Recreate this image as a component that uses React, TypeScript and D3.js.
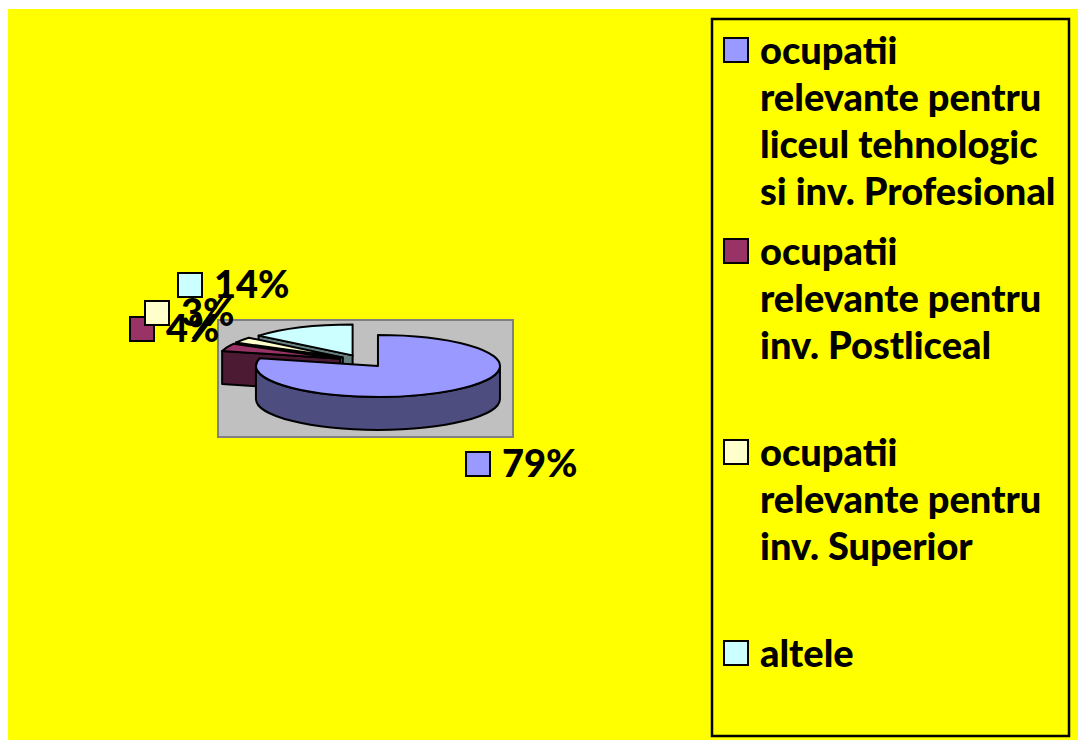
import React from "react";
import * as d3 from "d3";

// pie data, in legend order
const categories = [
  "ocupatii relevante pentru liceul tehnologic si inv. Profesional",
  "ocupatii relevante pentru inv. Postliceal",
  "ocupatii relevante pentru inv. Superior",
  "altele",
];
const legendLines = [
  ["ocupatii", "relevante pentru", "liceul tehnologic", "si inv. Profesional"],
  ["ocupatii", "relevante pentru", "inv. Postliceal"],
  ["ocupatii", "relevante pentru", "inv. Superior"],
  ["altele"],
];
const shares = [79, 4, 3, 14];
const colors = ["#9999FF", "#993366", "#FFFFCC", "#CCFFFF"];

const FONT = "Lato, 'Open Sans', sans-serif";

// label anchors (key square top-left) the way the original placed them
const labelPos = [
  [466, 452],
  [130, 317],
  [145, 301],
  [178, 273],
];

const shade = (c: string) => {
  const r = d3.rgb(c);
  return d3.rgb(r.r * 0.5, r.g * 0.5, r.b * 0.5).formatHex();
};

const Pie3D = ({ cx, cy, rx, ry, depth, explode }) => {
  const arcs = d3.pie<number>().sort(null).value(d => d)(shares);
  const pt = (c, a) => [c[0] + rx * Math.sin(a), c[1] - ry * Math.cos(a)];

  const slices = arcs.map((a, i) => {
    const mid = (a.startAngle + a.endAngle) / 2;
    const c = [cx + explode * rx * Math.sin(mid), cy - explode * ry * Math.cos(mid)];
    return { a, i, c };
  });
  // back to front
  slices.sort((p, q) => p.c[1] - q.c[1]);

  return (
    <g stroke="#000" strokeWidth={2} strokeLinejoin="round">
      {slices.map(({ a, i, c }) => {
        const s = a.startAngle, e = a.endAngle;
        const faces = [];
        const side = shade(colors[i]);
        // cut faces
        const cut = (ang) => {
          const p = pt(c, ang);
          return `M${c[0]},${c[1]}L${p[0]},${p[1]}L${p[0]},${p[1] + depth}L${c[0]},${c[1] + depth}Z`;
        };
        if (Math.sin(s) < -1e-6) faces.push(<path key="s" d={cut(s)} fill={side} />);
        if (Math.sin(e) > 1e-6) faces.push(<path key="e" d={cut(e)} fill={side} />);
        // outer wall, front half only
        const w0 = Math.max(s, Math.PI / 2), w1 = Math.min(e, Math.PI * 1.5);
        if (w1 > w0) {
          const p0 = pt(c, w0), p1 = pt(c, w1);
          const large = w1 - w0 > Math.PI ? 1 : 0;
          faces.push(
            <path
              key="w"
              fill={side}
              d={`M${p0[0]},${p0[1]}A${rx},${ry} 0 ${large} 1 ${p1[0]},${p1[1]}L${p1[0]},${p1[1] + depth}A${rx},${ry} 0 ${large} 0 ${p0[0]},${p0[1] + depth}Z`}
            />
          );
        }
        const t0 = pt(c, s), t1 = pt(c, e);
        const large = e - s > Math.PI ? 1 : 0;
        faces.push(
          <path
            key="t"
            fill={colors[i]}
            d={`M${c[0]},${c[1]}L${t0[0]},${t0[1]}A${rx},${ry} 0 ${large} 1 ${t1[0]},${t1[1]}Z`}
          />
        );
        return <g key={i}>{faces}</g>;
      })}
    </g>
  );
};

const App = () => {
  const pct = d3.format(".0%");
  const total = d3.sum(shares);
  const legendY = d3.scaleBand<number>().domain(d3.range(categories.length)).range([38, 842]);

  return (
    <svg width={1078} height={740} style={{ position: "absolute", left: 0, top: 0 }}>
      <rect x={8} y={9} width={1070} height={731} fill="#FFFF00" />

      {/* plot area */}
      <rect x={218} y={320} width={295} height={117} fill="#C0C0C0" stroke="#808080" strokeWidth={2} />
      <Pie3D cx={363} cy={361} rx={122} ry={31} depth={33} explode={0.2} />

      {/* leader line */}
      <line x1={228} y1={289} x2={193} y2={339} stroke="#000" strokeWidth={3} />

      {/* data labels */}
      {shares.map((v, i) => (
        <g key={i} transform={`translate(${labelPos[i][0]},${labelPos[i][1]})`}>
          <rect width={24} height={24} fill={colors[i]} stroke="#000" strokeWidth={2} />
          <text x={36} y={25} fontFamily={FONT} fontWeight={900} fontSize={38} fill="#000">
            {pct(v / total)}
          </text>
        </g>
      ))}

      {/* legend */}
      <rect x={712} y={19} width={357} height={717} fill="none" stroke="#000" strokeWidth={2.5} />
      {categories.map((c, i) => (
        <g key={c} transform={`translate(724,${legendY(i)})`}>
          <rect width={24} height={24} fill={colors[i]} stroke="#000" strokeWidth={2} />
          <text fontFamily={FONT} fontWeight={900} fontSize={38} fill="#000">
            {legendLines[i].map((l, j) => (
              <tspan key={j} x={36} y={26 + j * 47}>{l}</tspan>
            ))}
          </text>
        </g>
      ))}
    </svg>
  );
};

export default App;
